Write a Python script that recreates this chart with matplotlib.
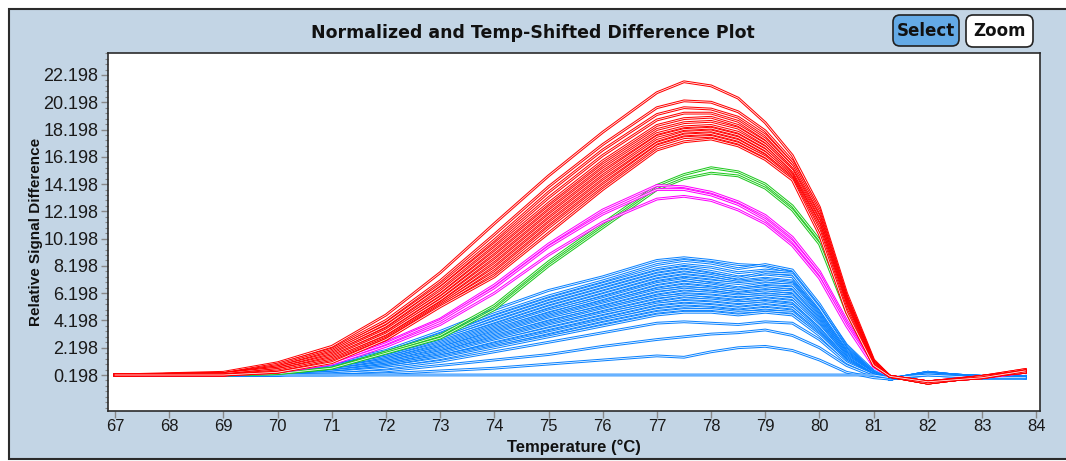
import matplotlib.pyplot as plt
from matplotlib.patches import Rectangle, FancyBboxPatch
from matplotlib.ticker import MultipleLocator

plt.rcParams['font.family'] = ['Liberation Sans', 'DejaVu Sans']

temps = [67, 69, 70, 71, 72, 73, 74, 75, 76, 77, 77.5, 78, 78.5, 79, 79.5, 80, 80.5, 81, 81.3, 82, 83, 83.8]

red_curves = [
    [0.2, 0.4, 1.1, 2.3, 4.6, 7.7, 11.3, 14.8, 18.0, 20.9, 21.7, 21.4, 20.5, 18.7, 16.3, 12.5, 6.2, 1.3, 0.1, -0.3, 0.1, 0.6],
    [0.2, 0.3, 1.0, 2.1, 4.2, 7.1, 10.5, 14.0, 17.1, 19.8, 20.3, 20.2, 19.5, 18.1, 15.9, 12.3, 6.0, 1.2, 0.1, -0.3, 0.1, 0.5],
    [0.2, 0.3, 0.9, 2.0, 4.0, 6.8, 10.1, 13.6, 16.7, 19.3, 19.8, 19.7, 19.1, 17.8, 15.7, 12.1, 5.9, 1.2, 0.1, -0.4, 0.1, 0.6],
    [0.2, 0.3, 0.8, 1.9, 3.8, 6.6, 9.8, 13.2, 16.3, 18.9, 19.4, 19.4, 18.8, 17.5, 15.5, 11.9, 5.8, 1.1, 0.1, -0.3, 0.0, 0.5],
    [0.2, 0.3, 0.8, 1.8, 3.6, 6.3, 9.5, 12.8, 15.9, 18.5, 19.0, 19.1, 18.5, 17.3, 15.3, 11.8, 5.7, 1.1, 0.1, -0.4, 0.1, 0.4],
    [0.2, 0.3, 0.7, 1.7, 3.5, 6.1, 9.2, 12.5, 15.6, 18.2, 18.7, 18.8, 18.3, 17.1, 15.2, 11.6, 5.6, 1.1, 0.1, -0.3, 0.0, 0.5],
    [0.2, 0.3, 0.7, 1.6, 3.3, 5.9, 8.9, 12.2, 15.3, 17.9, 18.4, 18.5, 18.0, 16.9, 15.0, 11.5, 5.5, 1.0, 0.1, -0.4, 0.1, 0.4],
    [0.2, 0.2, 0.6, 1.5, 3.2, 5.7, 8.6, 11.9, 15.0, 17.7, 18.2, 18.3, 17.8, 16.7, 14.9, 11.3, 5.4, 1.0, 0.1, -0.3, 0.0, 0.5],
    [0.2, 0.2, 0.6, 1.4, 3.0, 5.5, 8.3, 11.6, 14.7, 17.4, 18.0, 18.1, 17.6, 16.5, 14.8, 11.2, 5.3, 1.0, 0.1, -0.4, 0.1, 0.4],
    [0.2, 0.2, 0.5, 1.3, 2.9, 5.4, 8.0, 11.3, 14.4, 17.2, 17.8, 17.9, 17.4, 16.3, 14.7, 11.0, 5.2, 0.9, 0.1, -0.3, 0.0, 0.5],
    [0.2, 0.2, 0.4, 1.2, 2.8, 5.3, 7.7, 11.0, 14.1, 17.0, 17.6, 17.7, 17.2, 16.2, 14.6, 10.8, 5.0, 0.9, 0.1, -0.4, 0.1, 0.4],
    [0.2, 0.2, 0.4, 1.1, 2.8, 5.2, 7.4, 10.6, 13.8, 16.7, 17.3, 17.5, 17.0, 16.0, 14.5, 10.5, 4.8, 0.9, 0.1, -0.3, 0.0, 0.5],
]

green_curves = [
    [0.2, 0.2, 0.3, 0.7, 1.9, 3.1, 5.3, 8.5, 11.3, 14.1, 14.9, 15.4, 15.1, 14.2, 12.6, 10.1, 5.0, 1.0, 0.1, -0.4, 0.1, 0.4],
    [0.2, 0.2, 0.3, 0.7, 1.8, 2.9, 5.0, 8.2, 11.0, 13.8, 14.6, 15.0, 14.8, 13.9, 12.3, 9.8, 4.8, 0.9, 0.1, -0.3, 0.0, 0.4],
]

magenta_curves = [
    [0.2, 0.2, 0.5, 1.2, 2.6, 4.3, 6.8, 9.8, 12.3, 14.1, 14.0, 13.6, 12.9, 11.9, 10.3, 7.8, 4.2, 0.9, 0.1, -0.3, 0.1, 0.4],
    [0.2, 0.2, 0.5, 1.1, 2.5, 4.2, 6.6, 9.6, 12.0, 13.8, 13.8, 13.4, 12.7, 11.6, 10.0, 7.6, 4.0, 0.9, 0.1, -0.3, 0.0, 0.4],
    [0.2, 0.2, 0.4, 1.0, 2.3, 3.9, 6.2, 9.0, 11.4, 13.1, 13.3, 13.0, 12.3, 11.3, 9.7, 7.3, 3.8, 0.8, 0.1, -0.3, 0.0, 0.4],
]

blue_curves = [
    [0.2, 0.2, 0.5, 1.1, 2.0, 3.4, 5.0, 6.4, 7.4, 8.6, 8.8, 8.6, 8.3, 8.2, 7.7, 5.3, 2.4, 0.5, -0.1, 0.4, 0.0, 0.1],
    [0.2, 0.2, 0.4, 1.0, 1.9, 3.2, 4.7, 6.0, 7.1, 8.3, 8.6, 8.4, 8.0, 8.3, 7.9, 5.4, 2.3, 0.4, -0.1, 0.3, 0.1, 0.0],
    [0.2, 0.2, 0.4, 0.9, 1.8, 3.0, 4.5, 5.8, 6.9, 8.0, 8.3, 8.1, 7.7, 7.9, 7.7, 5.2, 2.2, 0.4, -0.1, 0.4, 0.0, 0.1],
    [0.2, 0.2, 0.4, 0.9, 1.7, 2.9, 4.3, 5.6, 6.7, 7.8, 8.1, 7.8, 7.4, 7.6, 7.4, 5.0, 2.1, 0.4, -0.1, 0.3, 0.0, 0.0],
    [0.2, 0.2, 0.4, 0.9, 1.6, 2.8, 4.1, 5.4, 6.5, 7.6, 7.9, 7.6, 7.3, 7.7, 7.6, 5.1, 2.1, 0.3, -0.1, 0.3, 0.1, 0.0],
    [0.2, 0.2, 0.3, 0.8, 1.6, 2.7, 3.9, 5.2, 6.3, 7.4, 7.7, 7.5, 7.1, 7.3, 7.1, 4.8, 2.0, 0.3, -0.1, 0.4, 0.0, 0.1],
    [0.2, 0.2, 0.3, 0.8, 1.5, 2.6, 3.8, 5.0, 6.1, 7.2, 7.5, 7.3, 7.0, 7.2, 7.0, 4.7, 1.9, 0.3, -0.1, 0.3, 0.0, 0.0],
    [0.2, 0.2, 0.3, 0.8, 1.5, 2.5, 3.7, 4.9, 5.9, 7.0, 7.3, 7.1, 6.9, 7.1, 6.9, 4.6, 1.9, 0.3, -0.1, 0.3, 0.1, 0.0],
    [0.2, 0.2, 0.3, 0.7, 1.4, 2.4, 3.6, 4.7, 5.8, 6.9, 7.2, 6.9, 6.6, 6.9, 6.8, 4.5, 1.8, 0.3, -0.1, 0.4, 0.0, 0.1],
    [0.2, 0.2, 0.3, 0.7, 1.4, 2.3, 3.5, 4.6, 5.6, 6.7, 7.0, 6.8, 6.5, 6.7, 6.6, 4.4, 1.8, 0.3, -0.1, 0.3, 0.0, 0.0],
    [0.2, 0.2, 0.3, 0.7, 1.3, 2.2, 3.4, 4.5, 5.5, 6.5, 6.8, 6.6, 6.4, 6.6, 6.4, 4.3, 1.7, 0.3, -0.1, 0.3, 0.0, 0.0],
    [0.2, 0.2, 0.3, 0.7, 1.3, 2.2, 3.3, 4.4, 5.4, 6.4, 6.6, 6.5, 6.2, 6.4, 6.3, 4.2, 1.7, 0.3, -0.1, 0.3, 0.1, 0.0],
    [0.2, 0.2, 0.3, 0.6, 1.2, 2.1, 3.2, 4.3, 5.2, 6.2, 6.5, 6.3, 6.1, 6.3, 6.1, 4.1, 1.6, 0.3, -0.1, 0.4, 0.0, 0.1],
    [0.2, 0.2, 0.3, 0.6, 1.2, 2.0, 3.1, 4.1, 5.1, 6.0, 6.3, 6.2, 6.0, 6.1, 6.0, 4.0, 1.6, 0.3, -0.1, 0.3, 0.0, 0.0],
    [0.2, 0.2, 0.3, 0.6, 1.1, 1.9, 3.0, 4.0, 5.0, 5.9, 6.1, 6.0, 5.8, 6.0, 5.8, 3.9, 1.5, 0.2, -0.1, 0.3, 0.0, 0.0],
    [0.2, 0.2, 0.3, 0.6, 1.1, 1.9, 2.9, 3.9, 4.8, 5.7, 6.0, 5.8, 5.6, 5.8, 5.6, 3.8, 1.5, 0.2, -0.1, 0.3, 0.1, 0.0],
    [0.2, 0.2, 0.3, 0.5, 1.0, 1.8, 2.8, 3.8, 4.7, 5.5, 5.8, 5.7, 5.5, 5.6, 5.4, 3.6, 1.4, 0.2, -0.1, 0.3, 0.0, 0.0],
    [0.2, 0.2, 0.2, 0.5, 1.0, 1.7, 2.7, 3.6, 4.5, 5.4, 5.6, 5.5, 5.3, 5.5, 5.3, 3.5, 1.4, 0.2, -0.1, 0.3, 0.0, 0.1],
    [0.2, 0.2, 0.2, 0.5, 0.9, 1.6, 2.5, 3.4, 4.3, 5.2, 5.4, 5.3, 5.1, 5.3, 5.1, 3.4, 1.3, 0.2, -0.1, 0.3, 0.0, 0.0],
    [0.2, 0.2, 0.2, 0.5, 0.9, 1.6, 2.4, 3.3, 4.2, 5.0, 5.2, 5.1, 4.9, 5.1, 4.9, 3.3, 1.3, 0.2, -0.1, 0.3, 0.0, 0.0],
    [0.2, 0.2, 0.2, 0.4, 0.8, 1.5, 2.3, 3.1, 4.0, 4.8, 5.0, 5.0, 4.8, 4.9, 4.8, 3.2, 1.2, 0.2, -0.1, 0.3, 0.1, 0.0],
    [0.2, 0.2, 0.2, 0.4, 0.8, 1.4, 2.2, 3.0, 3.8, 4.6, 4.8, 4.8, 4.6, 4.8, 4.6, 3.1, 1.2, 0.2, -0.1, 0.3, 0.0, 0.0],
    [0.2, 0.2, 0.2, 0.4, 0.7, 1.2, 1.9, 2.6, 3.3, 4.0, 4.1, 4.0, 3.9, 4.1, 4.0, 2.8, 1.1, 0.2, -0.1, 0.3, 0.0, 0.0],
    [0.2, 0.2, 0.2, 0.3, 0.5, 0.9, 1.3, 1.7, 2.3, 2.8, 3.0, 3.2, 3.3, 3.5, 3.1, 2.2, 0.9, 0.1, -0.1, 0.3, 0.0, 0.0],
    [0.2, 0.2, 0.2, 0.2, 0.3, 0.5, 0.7, 1.0, 1.3, 1.6, 1.5, 1.9, 2.2, 2.3, 2.0, 1.3, 0.4, 0.0, -0.1, 0.2, 0.0, 0.0],
    [0.2, 0.2, 0.2, 0.2, 0.2, 0.2, 0.2, 0.2, 0.2, 0.2, 0.2, 0.2, 0.2, 0.2, 0.2, 0.2, 0.2, 0.2, 0.0, 0.2, 0.0, 0.0],
]

x_ticks = list(range(67, 85))
y_ticks = [0.198, 2.198, 4.198, 6.198, 8.198, 10.198, 12.198, 14.198, 16.198, 18.198, 20.198, 22.198]

W, H = 1066, 461
fig = plt.figure(figsize=(W / 100, H / 100), dpi=100, facecolor='white')

# background panel in pixel units
bg = fig.add_axes([0, 0, 1, 1], zorder=0)
bg.set_xlim(0, W)
bg.set_ylim(H, 0)
bg.axis('off')
bg.add_patch(Rectangle((9, 9), W, 450, facecolor='#c3d5e5', edgecolor='#2b2b2b', lw=1.5))
bg.text(533, 33, 'Normalized and Temp-Shifted Difference Plot', ha='center', va='center',
        fontsize=12.5, fontweight='bold', family='DejaVu Sans', color='#111111')
bg.add_patch(FancyBboxPatch((896, 18), 60, 25, boxstyle='round,pad=3,rounding_size=7',
                            facecolor='#64aae6', edgecolor='#222222', lw=1.2))
bg.add_patch(FancyBboxPatch((969, 18), 61, 26, boxstyle='round,pad=3,rounding_size=7',
                            facecolor='white', edgecolor='#222222', lw=1.2))
bg.text(926, 31, 'Select', ha='center', va='center', fontsize=12, fontweight='bold',
        family='DejaVu Sans', color='#111111')
bg.text(999.5, 31, 'Zoom', ha='center', va='center', fontsize=12, fontweight='bold',
        family='DejaVu Sans', color='#111111')

# plot area
ax = fig.add_axes([108 / W, 1 - 411 / H, 932 / W, 358 / H], zorder=1)
ax.set_facecolor('white')


def hollow(vals, color):
    ax.plot(temps, vals, color=color, lw=2.0, solid_joinstyle='round')
    ax.plot(temps, vals, color='white', lw=0.55, solid_joinstyle='round')


for v in blue_curves:
    hollow(v, '#0a82ff')
for v in green_curves:
    hollow(v, '#1ec81e')
for v in magenta_curves:
    hollow(v, '#ff00ff')
for v in red_curves:
    hollow(v, '#ff0000')

ax.set_xlim(66.87, 84.07)
ax.set_ylim(-2.44, 23.81)
ax.set_xticks(x_ticks, labels=[str(t) for t in x_ticks], fontsize=12)
ax.set_yticks(y_ticks, labels=['%.3f' % t for t in y_ticks], fontsize=13)
ax.yaxis.set_minor_locator(MultipleLocator(0.4, offset=0.198))

for s in ax.spines.values():
    s.set_color('#2b2b2b')
    s.set_linewidth(1.2)
ax.tick_params(axis='both', which='major', direction='out', color='#888888', labelcolor='#1a1a1a',
               length=5, width=1, pad=2)
ax.tick_params(axis='x', which='major', pad=1)
ax.tick_params(axis='y', which='minor', direction='out', color='#888888', length=2.5, width=0.8)

ax.set_xlabel('Temperature (°C)', fontsize=12, fontweight='bold', va='center', color='#111111')
ax.xaxis.set_label_coords(0.5, -0.1)
ax.set_ylabel('Relative Signal Difference', fontsize=11, fontweight='bold',
              va='center', ha='center', color='#111111')
ax.yaxis.set_label_coords(-0.077, 0.5)

fig.savefig('out.png', dpi=100, facecolor='white')
